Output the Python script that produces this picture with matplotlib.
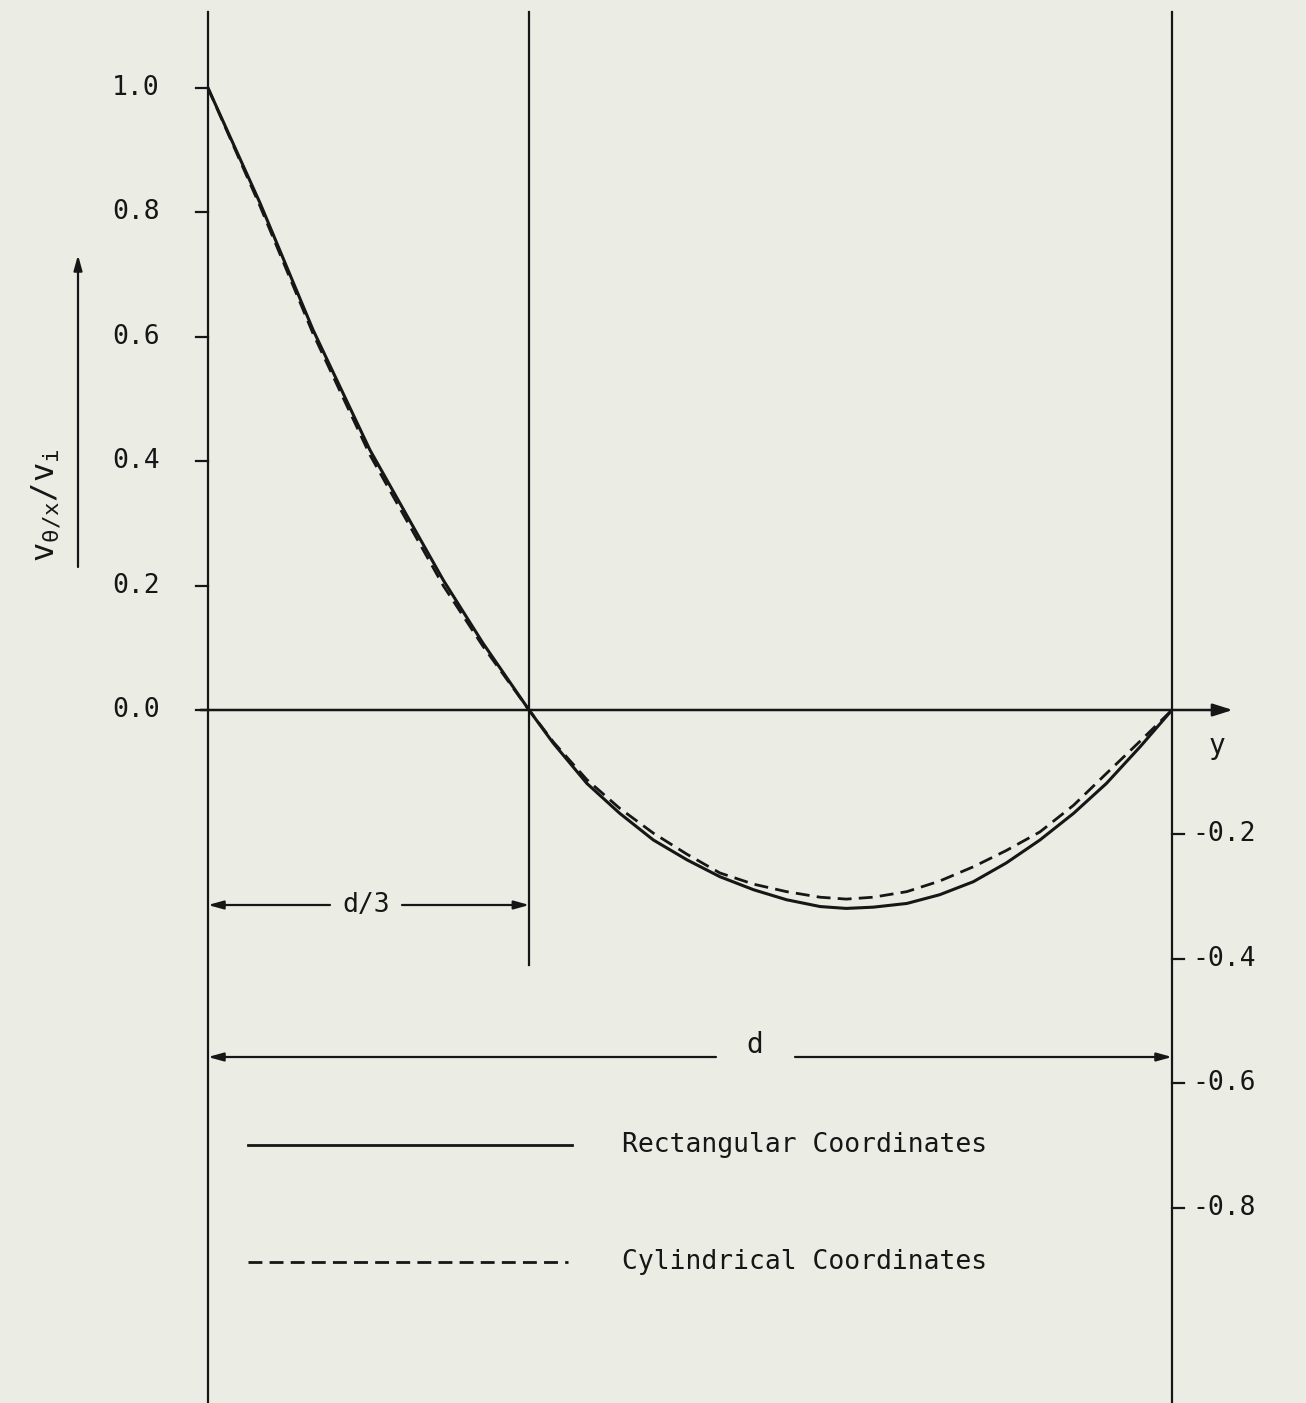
import matplotlib.pyplot as plt
import numpy as np

plt.rcParams['font.family'] = ['DejaVu Sans Mono']
plt.rcParams['mathtext.fontset'] = 'dejavusans'

# y/d positions where the curves were read
eta = [0.0, 0.054, 0.109, 0.168, 0.244, 0.285, 0.333, 0.358, 0.393, 0.427,
       0.462, 0.497, 0.531, 0.566, 0.600, 0.635, 0.662, 0.690, 0.725, 0.759,
       0.794, 0.828, 0.863, 0.898, 0.932, 0.967, 1.0]
# v / v_i, rectangular coordinates (solid)
rect = [1.0, 0.815, 0.611, 0.418, 0.209, 0.108, 0.0, -0.053, -0.118, -0.166,
        -0.209, -0.241, -0.268, -0.289, -0.305, -0.316, -0.319, -0.317, -0.311, -0.297,
        -0.276, -0.246, -0.209, -0.166, -0.118, -0.059, 0.0]
# v / v_i, cylindrical coordinates (dashed)
cyl = [1.0, 0.810, 0.605, 0.410, 0.200, 0.103, 0.0, -0.051, -0.112, -0.158,
       -0.198, -0.232, -0.262, -0.280, -0.292, -0.301, -0.304, -0.301, -0.292, -0.275,
       -0.252, -0.226, -0.196, -0.153, -0.102, -0.050, 0.0]

left_ticks = [0.0, 0.2, 0.4, 0.6, 0.8, 1.0]
right_ticks = [-0.2, -0.4, -0.6, -0.8]
legend_labels = ["Rectangular Coordinates", "Cylindrical Coordinates"]

ink = '#161616'
paper = '#ebece4'

fig = plt.figure(figsize=(13.06, 14.03), dpi=100, facecolor=paper)
ax = fig.add_axes([0, 0, 1, 1])
ax.set_facecolor(paper)
ax.set_axis_off()

# pixel layout: y/d=0 at x=208, y/d=1 at x=1172 ; v=0 at row 710, v=1 at row 88
px_x = 964.0
px_y = 622.0
ax.set_xlim(-208 / px_x, (1306 - 208) / px_x)
ax.set_ylim(-(1403 - 710) / px_y, 710 / px_y)

top = (710 - 12) / px_y
bottom = -(1403 - 710) / px_y

# frame lines
ax.plot([0, 0], [bottom, top], color=ink, lw=1.6)
ax.plot([1 / 3, 1 / 3], [-(965 - 710) / px_y, top], color=ink, lw=1.6)
ax.plot([1, 1], [bottom, top], color=ink, lw=1.6)

# horizontal axis with arrow
ax.annotate('', xy=(1.063, 0), xytext=(-0.008, 0),
            arrowprops=dict(arrowstyle='-|>,head_length=1.2,head_width=0.38',
                            color=ink, lw=1.8, shrinkA=0, shrinkB=0))
ax.text(1.047, -0.058, 'y', fontsize=20, color=ink, ha='center', va='center')

# ticks
tl = 12 / px_x
for v in left_ticks:
    ax.plot([-tl, 0], [v, v], color=ink, lw=1.6)
    ax.text(-0.05, v, f'{v:.1f}', fontsize=19, color=ink, ha='right', va='center')
for v in right_ticks:
    ax.plot([1, 1 + tl], [v, v], color=ink, lw=1.6)
    ax.text(1.021, v, f'{v:.1f}', fontsize=19, color=ink, ha='left', va='center')

# curves
ax.plot(eta, rect, color=ink, lw=2.2, solid_capstyle='round', solid_joinstyle='round')
ax.plot(eta, cyl, color=ink, lw=2.0, dashes=(5, 2.6))

# dimension d/3
yd3 = -(905 - 710) / px_y
arr = dict(arrowstyle='-|>,head_length=0.9,head_width=0.25', color=ink, lw=1.6,
           shrinkA=0, shrinkB=0)
ax.annotate('', xy=(0, yd3), xytext=((330 - 208) / px_x, yd3), arrowprops=arr)
ax.annotate('', xy=(1 / 3, yd3), xytext=((402 - 208) / px_x, yd3), arrowprops=arr)
ax.text((366 - 208) / px_x, yd3, 'd/3', fontsize=19, color=ink, ha='center', va='center')

# dimension d
ydd = -(1057 - 710) / px_y
ax.annotate('', xy=(0, ydd), xytext=((716 - 208) / px_x, ydd), arrowprops=arr)
ax.annotate('', xy=(1, ydd), xytext=((795 - 208) / px_x, ydd), arrowprops=arr)
ax.text((755 - 208) / px_x, ydd + 12 / px_y, 'd', fontsize=20, color=ink, ha='center', va='center')

# legend drawn as in the original
yl1 = -(1145 - 710) / px_y
yl2 = -(1262 - 710) / px_y
ax.plot([(248 - 208) / px_x, (572 - 208) / px_x], [yl1, yl1], color=ink, lw=2.0)
ax.plot([(248 - 208) / px_x, (568 - 208) / px_x], [yl2, yl2], color=ink, lw=2.0, dashes=(5, 2.6))
ax.text((622 - 208) / px_x, yl1, legend_labels[0], fontsize=19, color=ink, ha='left', va='center')
ax.text((622 - 208) / px_x, yl2, legend_labels[1], fontsize=19, color=ink, ha='left', va='center')

# y label with arrow
xa = (78 - 208) / px_x
ax.annotate('', xy=(xa, (710 - 255) / px_y), xytext=(xa, (710 - 567) / px_y),
            arrowprops=dict(arrowstyle='-|>,head_length=0.9,head_width=0.25',
                            color=ink, lw=1.6, shrinkA=0, shrinkB=0))
ax.text((46 - 208) / px_x, (710 - 505) / px_y, r'$\mathregular{v_{\theta/x}/v_i}$',
        fontsize=23, color=ink, rotation=90, ha='center', va='center')

fig.savefig('out.png', dpi=100, facecolor=paper)
